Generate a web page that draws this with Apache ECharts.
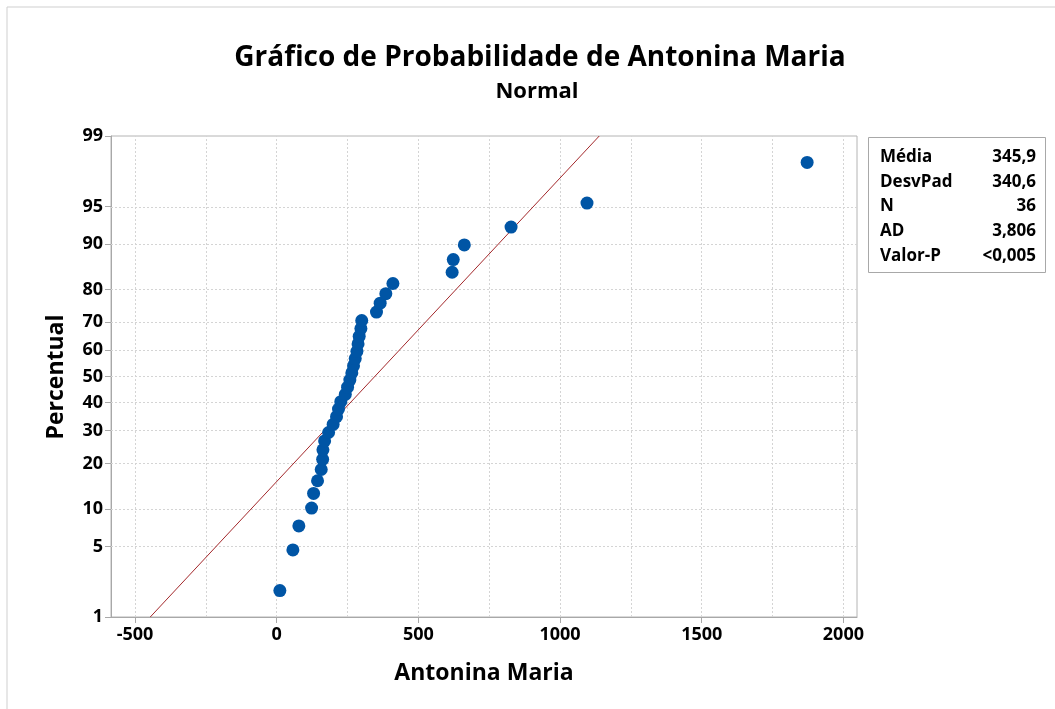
<!DOCTYPE html>
<html>
<head>
<meta charset="utf-8">
<title>Gráfico de Probabilidade</title>
<script src="https://cdn.jsdelivr.net/npm/echarts@6.0.0/dist/echarts.min.js"></script>
<style>
  html, body { margin: 0; padding: 0; background: #fff; }
  #main { width: 1055px; height: 709px; }
</style>
</head>
<body>
<div id="main"></div>
<script>
// valores (Antonina Maria, ordenados)
var amostra = [11, 57, 78, 123, 130, 144, 157, 162, 163, 169, 183, 199, 211, 218, 226, 242, 250, 258,
  265, 271, 277, 283, 287, 291, 297, 300, 352, 365, 385, 410, 619, 623, 662, 827, 1095, 1872];
// percentuais de cada ponto
var percentuais = [1.92, 4.67, 7.42, 10.16, 12.91, 15.66, 18.41, 21.15, 23.90, 26.65, 29.40, 32.14,
  34.89, 37.64, 40.38, 43.13, 45.88, 48.63, 51.37, 54.12, 56.87, 59.62, 62.36, 65.11,
  67.86, 70.60, 73.35, 76.10, 78.85, 81.59, 84.34, 87.09, 89.84, 92.58, 95.33, 98.08];
// marcas dos eixos
var yTicks = [1, 5, 10, 20, 30, 40, 50, 60, 70, 80, 90, 95, 99];
var xTicks = [-500, 0, 500, 1000, 1500, 2000];
var xGrid = [-500, -250, 0, 250, 500, 750, 1000, 1250, 1500, 1750, 2000];
// estatísticas da legenda
var statNomes = ['Média', 'DesvPad', 'N', 'AD', 'Valor-P'];
var statValores = ['345,9', '340,6', '36', '3,806', '<0,005'];
var media = 345.9;
var desvPad = 340.6;

// inversa da normal padrão (Acklam)
function invNorm(p) {
  var a = [-3.969683028665376e+01, 2.209460984245205e+02, -2.759285104469687e+02, 1.383577518672690e+02, -3.066479806614716e+01, 2.506628277459239e+00];
  var b = [-5.447609879822406e+01, 1.615858368580409e+02, -1.556989798598866e+02, 6.680131188771972e+01, -1.328068155288572e+01];
  var c = [-7.784894002430293e-03, -3.223964580411365e-01, -2.400758277161838e+00, -2.549732539343734e+00, 4.374664141464968e+00, 2.938163982698783e+00];
  var d = [7.784695709041462e-03, 3.224671290700398e-01, 2.445134137142996e+00, 3.754408661907416e+00];
  var pl = 0.02425, q, r;
  if (p < pl) {
    q = Math.sqrt(-2 * Math.log(p));
    return (((((c[0]*q+c[1])*q+c[2])*q+c[3])*q+c[4])*q+c[5]) / ((((d[0]*q+d[1])*q+d[2])*q+d[3])*q+1);
  }
  if (p > 1 - pl) {
    q = Math.sqrt(-2 * Math.log(1 - p));
    return -(((((c[0]*q+c[1])*q+c[2])*q+c[3])*q+c[4])*q+c[5]) / ((((d[0]*q+d[1])*q+d[2])*q+d[3])*q+1);
  }
  q = p - 0.5; r = q * q;
  return (((((a[0]*r+a[1])*r+a[2])*r+a[3])*r+a[4])*r+a[5])*q / (((((b[0]*r+b[1])*r+b[2])*r+b[3])*r+b[4])*r+1);
}

var zTicks = yTicks.map(function (p) { return invNorm(p / 100); });
var zMin = zTicks[0];
var zMax = zTicks[zTicks.length - 1];
var pontos = amostra.map(function (v, i) { return [v, invNorm(percentuais[i] / 100)]; });
var reta = [[media + desvPad * zMin, zMin], [media + desvPad * zMax, zMax]];

var fonte = 'Open Sans';
var gridCor = '#d4d4d4';

var myChart = echarts.init(document.getElementById('main'));

// linhas de grade pontilhadas
var linhasGrade = [];
xGrid.forEach(function (v) { linhasGrade.push({ xAxis: v }); });
zTicks.forEach(function (z) { linhasGrade.push({ yAxis: z }); });

var graficos = [
  { type: 'line', shape: { x1: 7, y1: 7, x2: 1055, y2: 7 }, style: { stroke: '#cfcfcf', lineWidth: 1 } },
  { type: 'line', shape: { x1: 7, y1: 7, x2: 7, y2: 709 }, style: { stroke: '#cfcfcf', lineWidth: 1 } },
  { type: 'text', x: 540, y: 58, style: { text: 'Gráfico de Probabilidade de Antonina Maria', font: 'bold 28px ' + fonte, fill: '#000', textAlign: 'center', textVerticalAlign: 'middle' } },
  { type: 'text', x: 537, y: 92, style: { text: 'Normal', font: 'bold 22px ' + fonte, fill: '#000', textAlign: 'center', textVerticalAlign: 'middle' } },
  { type: 'text', x: 484, y: 673, style: { text: 'Antonina Maria', font: 'bold 23px ' + fonte, fill: '#000', textAlign: 'center', textVerticalAlign: 'middle' } },
  { type: 'text', x: 56, y: 377, rotation: Math.PI / 2, style: { text: 'Percentual', font: 'bold 23px ' + fonte, fill: '#000', textAlign: 'center', textVerticalAlign: 'middle' } },
  // caixa de estatísticas
  { type: 'rect', shape: { x: 868.5, y: 137.5, width: 177, height: 135 }, style: { fill: '#fff', stroke: '#a8a8a8', lineWidth: 1 } }
];
statNomes.forEach(function (nome, i) {
  graficos.push({ type: 'text', x: 880, y: 157 + i * 24.7, style: { text: nome, font: 'bold 17px ' + fonte, fill: '#000', textVerticalAlign: 'middle' } });
  graficos.push({ type: 'text', x: 1036, y: 157 + i * 24.7, style: { text: statValores[i], font: 'bold 17px ' + fonte, fill: '#000', textAlign: 'right', textVerticalAlign: 'middle' } });
});

var option = {
  backgroundColor: '#fff',
  animation: false,
  grid: {
    left: 111, right: 198, top: 136, bottom: 92,
    show: true, borderColor: '#b4b4b4', borderWidth: 1, backgroundColor: '#fff'
  },
  xAxis: {
    type: 'value',
    min: -585,
    max: 2048,
    axisLine: { show: true, onZero: false, lineStyle: { color: '#a8a8a8' } },
    axisTick: { show: true, length: 6, customValues: xTicks, lineStyle: { color: '#a8a8a8' } },
    axisLabel: {
      customValues: xTicks, margin: 9, color: '#000', fontFamily: fonte, fontWeight: 'bold', fontSize: 18,
      formatter: function (v) { return String(v); }
    },
    splitLine: { show: false }
  },
  yAxis: {
    type: 'value',
    min: zMin,
    max: zMax,
    axisLine: { show: true, onZero: false, lineStyle: { color: '#a8a8a8' } },
    axisTick: { show: true, length: 6, customValues: zTicks, lineStyle: { color: '#a8a8a8' } },
    axisLabel: {
      customValues: zTicks, margin: 8, color: '#000', fontFamily: fonte, fontWeight: 'bold', fontSize: 18,
      formatter: function (v) {
        var melhor = 0;
        zTicks.forEach(function (z, i) { if (Math.abs(z - v) < Math.abs(zTicks[melhor] - v)) melhor = i; });
        return String(yTicks[melhor]);
      }
    },
    splitLine: { show: false }
  },
  series: [
    {
      type: 'line',
      data: [],
      silent: true,
      z: 1,
      markLine: {
        silent: true,
        symbol: 'none',
        z: 1,
        label: { show: false },
        lineStyle: { color: gridCor, type: [2, 2], width: 1 },
        emphasis: { disabled: true },
        data: linhasGrade
      }
    },
    {
      type: 'line',
      data: reta,
      symbol: 'none',
      silent: true,
      z: 3,
      lineStyle: { color: '#a3282b', width: 1 }
    },
    {
      type: 'scatter',
      data: pontos,
      symbolSize: 13,
      z: 4,
      itemStyle: { color: '#0055a5', opacity: 1 }
    }
  ],
  graphic: graficos
};

myChart.setOption(option);
</script>
</body>
</html>
